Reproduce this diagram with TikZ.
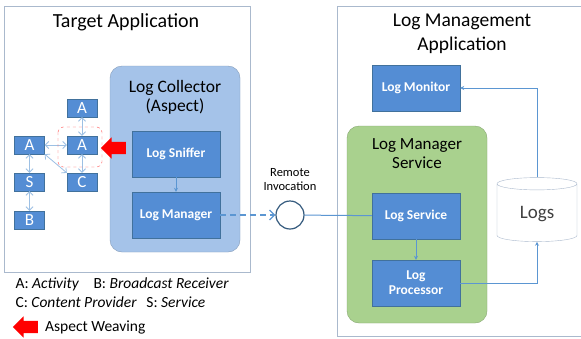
\documentclass[tikz,border=0pt]{standalone}
\usepackage{fontspec}
\setmainfont{Carlito}
\usetikzlibrary{shapes.geometric, shapes.arrows, arrows.meta, positioning}
\definecolor{boxblue}{RGB}{84,141,212}
\definecolor{boxline}{RGB}{65,113,156}
\definecolor{aspectblue}{RGB}{165,195,233}
\definecolor{servgreen}{RGB}{169,209,142}
\definecolor{linkblue}{RGB}{91,150,210}
\definecolor{framegray}{RGB}{170,185,205}
\tikzset{
    frame/.style = {draw = framegray, line width = 1},
    comp/.style = {draw = boxline, fill = boxblue, text = white, font = \bfseries\fontsize{13.5}{15}\selectfont, minimum width = 88, minimum height = 46, inner sep = 0, align = center},
    act/.style = {draw = boxline, fill = boxblue, text = white, font = \fontsize{17}{17}\selectfont, minimum width = 30, minimum height = 18, inner sep = 0},
    link/.style = {draw = linkblue!60, {Straight Barb[length = 3.5, width = 7]}-{Straight Barb[length = 3.5, width = 7]}, line width = 0.8},
    flow/.style = {draw = linkblue, -{Stealth[length = 4, width = 4]}, line width = 0.8},
    weave/.style = {single arrow, fill = red, draw = none, shape border rotate = 180, minimum height = 25, inner xsep = 0, inner ysep = 6, single arrow head extend = 4.5}
}

\begin{document}
\begin{tikzpicture}[x = 1pt, y = -1pt]
    \useasboundingbox [fill = white] (0, 0) rectangle (581, 338);

    \draw [frame] (4, 6) rectangle (250, 272);
    \draw [frame] (337, 6) rectangle (590, 336);
    \node [font = \fontsize{20}{24}\selectfont] (tapp) at (126, 22) {Target Application};
    \node [font = \fontsize{19.5}{24}\selectfont, align = center] (lapp) at (462, 34) {Log Management\\Application};

    \draw [fill = aspectblue, draw = aspectblue!80!black, rounded corners = 12] (110, 66) rectangle (240, 252);
    \node [font = \fontsize{17.5}{19}\selectfont, align = center] (coll) at (175, 97) {Log Collector\\(Aspect)};
    \node [comp] (sniffer) at (176, 154) {Log Sniffer};
    \node [comp] (logmgr) at (176, 215) {Log Manager};
    \draw [flow] (sniffer) -- (logmgr);

    \node [act] (a1) at (82, 108) {A};
    \node [act] (a2) at (82, 145) {A};
    \node [act] (a3) at (29.5, 145) {A};
    \node [act] (s1) at (29.5, 182) {S};
    \node [act] (b1) at (29.5, 220) {B};
    \node [act] (c1) at (82, 182) {C};
    \draw [link] (a1) -- (a2);
    \draw [link] (a3) -- (a2);
    \draw [link] (a3) -- (s1);
    \draw [link] (s1) -- (b1);
    \draw [link] (a2) -- (c1);
    \draw [link] (a3.south east) -- (c1.north west);
    \draw [red!70, dashed, rounded corners = 5] (58, 127) rectangle (102, 167);
    \node [weave] (w1) at (116.5, 148) {};

    \node [font = \fontsize{15.5}{19}\selectfont, anchor = west] (leg1) at (12, 284) {A: \textit{Activity}\hspace{0.7em} B: \textit{Broadcast Receiver}};
    \node [font = \fontsize{15.5}{19}\selectfont, anchor = west] (leg2) at (12, 302) {C: \textit{Content Provider}\hspace{0.4em} S: \textit{Service}};
    \node [weave] (w2) at (28.5, 327) {};
    \node [font = \fontsize{15.5}{19}\selectfont, anchor = west, right = 3.5 of w2] (leg3) {Aspect Weaving};

    \node [circle, draw = boxline!80!black, fill = white, line width = 1.2, minimum size = 28, inner sep = 0] (rmi) at (290, 215) {};
    \node [font = \fontsize{12.5}{14}\selectfont, align = center] (rmilabel) at (290, 180) {Remote\\Invocation};

    \node [comp] (monitor) at (416, 88) {Log Monitor};
    \draw [fill = servgreen, draw = servgreen!80!black, rounded corners = 12] (347, 126) rectangle (487, 323);
    \node [font = \fontsize{17}{19}\selectfont, align = center] (serv) at (417, 154) {Log Manager\\Service};
    \node [comp] (logsrv) at (416, 216) {Log Service};
    \node [comp] (proc) at (416, 283) {Log\\Processor};
    \node [cylinder, shape border rotate = 90, aspect = 0.3, draw = framegray, fill = white, minimum width = 80, minimum height = 64, font = \fontsize{19}{20}\selectfont, text = black!75] (logs) at (537, 214) {Logs};

    \draw [linkblue, line width = 1.2, dashed, dash pattern = on 6 off 4, -{Straight Barb[length = 5, width = 10]}] (logmgr) -- (rmi);
    \draw [linkblue, line width = 1] (rmi) -- (logsrv);
    \draw [flow] (logsrv) -- (proc);
    \draw [flow] (proc.east) -| (logs.south);
    \draw [flow] (logs.north) |- (monitor.east);
\end{tikzpicture}
\end{document}
